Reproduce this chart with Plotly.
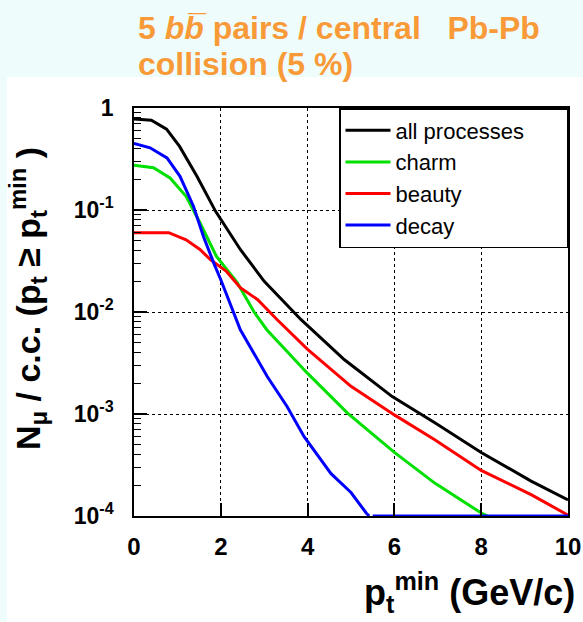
import plotly.graph_objects as go

# ---- data ----
all_x = [0, 0.4, 0.75, 1.05, 1.45, 1.88, 2.45, 3.0, 3.85, 4.85, 5.95, 6.95, 8.0, 9.15, 10.0]
all_y = [0.78, 0.76, 0.62, 0.42, 0.214, 0.097, 0.041, 0.020, 0.0084, 0.0034, 0.00148, 0.00081, 0.00042, 0.00022, 0.000144]

charm_x = [0, 0.45, 0.83, 1.2, 1.52, 1.9, 2.38, 2.76, 3.06, 4.0, 4.92, 6.0, 6.93, 8.0, 8.15]
charm_y = [0.275, 0.26, 0.206, 0.136, 0.075, 0.035, 0.0194, 0.0101, 0.0067, 0.0025, 0.00102, 0.00042, 0.00021, 0.000107, 0.0001]

beauty_x = [0, 0.8, 1.2, 1.52, 1.76, 2.13, 2.45, 2.85, 3.3, 4.0, 5.0, 6.0, 6.93, 8.0, 9.15, 10.0]
beauty_y = [0.06, 0.06, 0.051, 0.041, 0.0326, 0.025, 0.0173, 0.0132, 0.0084, 0.0043, 0.00187, 0.00098, 0.00056, 0.00028, 0.000162, 0.000102]

decay_x = [0, 0.37, 0.76, 1.06, 1.37, 1.6, 1.84, 2.0, 2.45, 3.07, 3.53, 3.92, 4.54, 5.0, 5.35, 5.42, None, 5.5, 10.0]
decay_y = [0.45, 0.407, 0.324, 0.214, 0.109, 0.055, 0.030, 0.0207, 0.0067, 0.00233, 0.00118, 0.0006, 0.00026, 0.00017, 0.000107, 0.0001, None, 0.0001, 0.0001]

series_names = ["all processes", "charm", "beauty", "decay"]
series_colors = ["#000000", "#00e000", "#ff0000", "#0000ff"]

y_tickvals = [1e-4, 1e-3, 1e-2, 1e-1, 1]
y_ticktext = ["10<sup>-4</sup>", "10<sup>-3</sup>", "10<sup>-2</sup>", "10<sup>-1</sup>", "1"]
x_tickvals = [0, 2, 4, 6, 8, 10]

title_lines = ["5 <i>bb\u0305</i> pairs / central   Pb-Pb", "collision (5 %)"]

W, H = 583, 622
L, R, T, B = 134, 15, 108, 106

FONT = "Liberation Sans, Arial, sans-serif"
ORANGE = "#f99a38"

fig = go.Figure()
for i, (xs, ys, name, col) in enumerate(zip([all_x, charm_x, beauty_x, decay_x],
                                            [all_y, charm_y, beauty_y, decay_y],
                                            series_names, series_colors)):
    # pad the longest legend entry so the legend box is as wide as in the original
    label = name + ("\u00a0" * 6 if i == 0 else "")
    fig.add_trace(go.Scatter(x=xs, y=ys, mode="lines", name=label,
                             line=dict(color=col, width=3), connectgaps=False))

pw = W - L - R
ph = H - T - B
def px2paper_x(p):
    return (p - L) / pw
def py2paper_y(p):
    return (H - B - p) / ph

fig.add_shape(type="rect", xref="paper", yref="paper",
              x0=px2paper_x(7), x1=px2paper_x(590), y0=py2paper_y(640), y1=py2paper_y(77),
              fillcolor="white", line=dict(width=0), layer="below")

fig.update_layout(
    width=W, height=H, autosize=False,
    margin=dict(l=L, r=R, t=T, b=B, autoexpand=False),
    paper_bgcolor="#effcfc", plot_bgcolor="white",
    font=dict(family=FONT, color="black"),
    showlegend=True,
    legend=dict(x=1, xanchor="right", y=1, yanchor="top",
                bgcolor="white", bordercolor="black", borderwidth=1.5,
                font=dict(family=FONT, size=22, color="black"),
                itemwidth=45, tracegroupgap=0),
)

fig.update_xaxes(range=[0, 10], showline=True, linecolor="black", linewidth=1.5, mirror=True,
                 automargin=False,
                 ticks="inside", ticklen=13, tickwidth=1.5, tickcolor="black",
                 tickvals=x_tickvals, ticktext=[str(v) for v in x_tickvals],
                 tickfont=dict(family=FONT, size=24, color="black", weight="bold"),
                 ticklabelstandoff=8,
                 showgrid=True, gridcolor="black", gridwidth=1, griddash="dot", zeroline=False)

fig.update_yaxes(type="log", range=[-4, 0], showline=True, linecolor="black", linewidth=1.5, mirror=True,
                 automargin=False,
                 ticks="inside", ticklen=13, tickwidth=1.5, tickcolor="black",
                 tickvals=y_tickvals, ticktext=y_ticktext,
                 tickfont=dict(family=FONT, size=23, color="black", weight="bold"),
                 ticklabelstandoff=14,
                 minor=dict(ticks="inside", ticklen=7, tickwidth=1, tickcolor="black", dtick="D1", showgrid=False),
                 showgrid=True, gridcolor="black", gridwidth=1, griddash="dot", zeroline=False)

# title (two lines)
for line_text, yc in zip(title_lines, [28, 64]):
    fig.add_annotation(xref="paper", yref="paper", x=px2paper_x(136), y=py2paper_y(yc),
                       xanchor="left", yanchor="middle", align="left", showarrow=False,
                       text=line_text,
                       font=dict(family=FONT, size=32, color=ORANGE, weight="bold"))

# y title
fig.add_annotation(xref="paper", yref="paper", x=px2paper_x(28), y=py2paper_y(299),
                   xanchor="center", yanchor="middle", textangle=-90, showarrow=False,
                   text="N<sub>\u03bc</sub> / c.c. (p<sub>t</sub> \u2265 p<sub>t</sub><sup>min</sup> )",
                   font=dict(family=FONT, size=34, color="black", weight="bold"))

# x title
fig.add_annotation(xref="paper", yref="paper", x=px2paper_x(577), y=py2paper_y(592),
                   xanchor="right", yanchor="middle", showarrow=False,
                   text="p<sub>t</sub><sup>min</sup> (GeV/c)",
                   font=dict(family=FONT, size=36, color="black", weight="bold"))

fig.write_html("out.html")
